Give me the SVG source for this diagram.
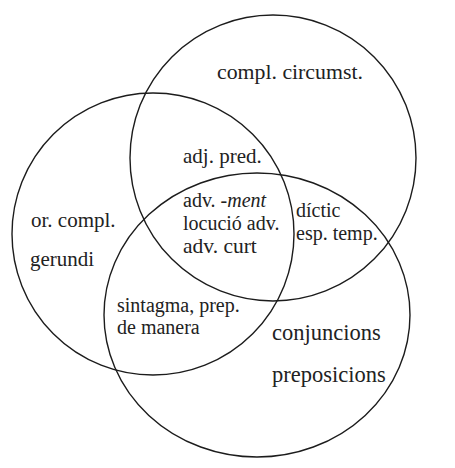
<svg xmlns="http://www.w3.org/2000/svg" width="455" height="468" viewBox="0 0 455 468">
<style>
.set{fill:none;stroke:#1c1c1c;stroke-width:1.4}
.lbl{font-family:"Liberation Serif","Times New Roman",serif;font-size:21px;fill:#222}
.big{font-size:22.5px}
.sm{font-size:20px}
</style>
<rect width="455" height="468" fill="#ffffff"/>
<g id="connectors"/>
<g id="set-circumstancial">
<circle class="set" cx="273" cy="158" r="143"/>
</g>
<g id="set-left">
<circle class="set" cx="153" cy="234" r="141"/>
</g>
<g id="set-bottom">
<ellipse class="set" cx="257" cy="315" rx="153" ry="142"/>
</g>
<g id="label-compl-circumst"><text class="lbl" x="217" y="79" style="font-size:21.8px">compl. circumst.</text></g>
<g id="label-adj-pred"><text class="lbl" x="183" y="163">adj. pred.</text></g>
<g id="label-center">
<text class="lbl sm" x="183" y="207">adv. -<tspan font-style="italic">ment</tspan></text>
<text class="lbl sm" x="183" y="230">locució adv.</text>
<text class="lbl sm" x="183" y="253" style="font-size:21.5px">adv. curt</text>
</g>
<g id="label-dictic">
<text class="lbl sm" x="296" y="217">díctic</text>
<text class="lbl sm" x="296" y="240">esp. temp.</text>
</g>
<g id="label-or-compl">
<text class="lbl" x="31" y="227">or. compl.</text>
<text class="lbl" x="30" y="266">gerundi</text>
</g>
<g id="label-sintagma">
<text class="lbl sm" x="117" y="312">sintagma, prep.</text>
<text class="lbl sm" x="117" y="334">de manera</text>
</g>
<g id="label-conj">
<text class="lbl big" x="272" y="340">conjuncions</text>
<text class="lbl big" x="272" y="382">preposicions</text>
</g>
</svg>
